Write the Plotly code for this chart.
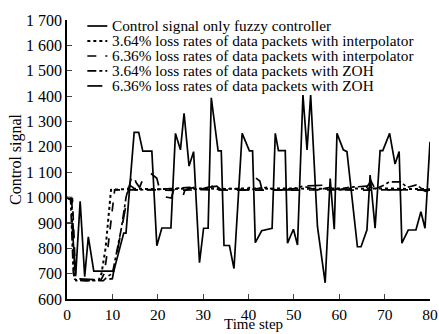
import plotly.graph_objects as go

# ---- data ----
fuzzy_t = [0, 1.1, 1.9, 2.9, 3.9, 4.7, 5.9, 10.3, 12.5, 13, 14.8, 15.8, 16.7, 18.7, 19.8, 20.9, 22.9,
           23.9, 25, 25.8, 26.9, 27.9, 29.2, 30.1, 31.1, 31.8, 33.3, 34, 34.6, 35.8, 36.8, 38.6,
           40.2, 40.9, 41.5, 42.9, 45.2, 45.9, 46.6, 48.1, 48.6, 49.9, 50.8, 52, 52.9, 53.7, 55.2,
           56.9, 58, 58.9, 59.5, 60.9, 61.7, 64, 64.8, 66.1, 66.8, 67.9, 69, 69.6, 71.1, 72.3,
           73.2, 73.8, 75.2, 76.9, 78, 78.9, 80]
fuzzy_v = [900, 900, 690, 985, 688, 845, 710, 710, 860, 860, 1257, 1257, 1183, 1183, 810, 880, 880,
           1253, 1188, 1332, 1124, 1181, 743, 879, 879, 1393, 1184, 1184, 811, 811, 720, 1253,
           1184, 1184, 822, 869, 879, 1253, 1185, 1185, 820, 875, 813, 1404, 1188, 1404, 885,
           664, 1075, 875, 1253, 1188, 1181, 806, 806, 872, 1089, 879, 1185, 1185, 1253, 1132,
           1181, 820, 872, 872, 944, 879, 1220]

interp364_t = [0, 1, 1.6, 2, 7, 7.6, 8.5, 9.7, 11, 15, 20, 25, 30, 35, 40, 45, 50, 55, 60, 65, 70, 75, 80]
interp364_v = [1000, 990, 680, 675, 675, 700, 800, 1030, 1032, 1035, 1033, 1035, 1036, 1034, 1036,
               1035, 1036, 1034, 1036, 1035, 1036, 1034, 1033]

interp636_t = [0, 1.2, 1.9, 2.2, 4, 7.5, 8.2, 9, 10.5, 12, 14, 20, 24, 30, 36, 42, 48, 54, 60, 66, 72, 78, 79.5, 80]
interp636_v = [1000, 995, 690, 680, 672, 675, 700, 800, 1030, 1030, 1032, 1030, 1028, 1031, 1029,
               1030, 1028, 1031, 1030, 1029, 1031, 1030, 1025, 1030]

zoh364_t = [0, 0.8, 1.4, 2, 8, 9, 10, 11, 12, 13, 13.7, 14.5, 15, 20, 27, 29, 32, 33.5, 36, 40, 44, 46,
            50, 52, 55, 58, 60, 62, 66, 68, 70, 71, 73.5, 75, 77, 79, 80]
zoh364_v = [1000, 990, 700, 672, 672, 690, 700, 790, 880, 1000, 1050, 1040, 1030, 1032, 1040, 1030,
            1045, 1030, 1035, 1030, 1040, 1030, 1035, 1045, 1030, 1040, 1030, 1040, 1045, 1035, 1050,
            1062, 1062, 1040, 1050, 1025, 1030]

zoh636_t = [0, 1, 1.3, 1.8, 8, 10, 11, 12, 12.8, 13.5, 14.5, 15.2, 16, 17, 18, 19.8, 20.5, 21, 23, 23.5,
            25, 25.5, 26, 28, 30, 31, 33, 34, 40, 41, 42.5, 43, 50, 52, 58, 60, 66, 67, 68, 72, 78, 80]
zoh636_v = [1000, 1000, 900, 680, 675, 680, 780, 870, 950, 1030, 1100, 1060, 1040, 1085, 1102, 1076,
            1025, 1005, 998, 1030, 1030, 1003, 1030, 1040, 1030, 1040, 1045, 1030, 1030, 1085, 1065,
            1030, 1030, 1045, 1050, 1030, 1040, 1065, 1030, 1030, 1030, 1030]

series_names = ["Control signal only fuzzy controller",
                "3.64% loss rates of data packets with interpolator",
                "6.36% loss rates of data packets with interpolator",
                "3.64% loss rates of data packets with ZOH",
                "6.36% loss rates of data packets with ZOH"]
series_dash = ["solid", "dot", "dash", "dashdot", "longdash"]

y_tickvals = [600, 700, 800, 900, 1000, 1100, 1200, 1300, 1400, 1500, 1600, 1700]
y_ticktext = ["600", "700", "800", "900", "1 000", "1 100", "1 200", "1 300", "1 400", "1 500", "1 600", "1 700"]
x_tickvals = [0, 10, 20, 30, 40, 50, 60, 70, 80]
x_title = "Time step"
y_title = "Control signal"

FONT = "Liberation Serif"

fig = go.Figure()
series = [(fuzzy_t, fuzzy_v), (interp364_t, interp364_v), (interp636_t, interp636_v),
          (zoh364_t, zoh364_v), (zoh636_t, zoh636_v)]
widths = [1.7, 2, 1.7, 1.7, 1.7]
for (t, v), name, dash, w in zip(series, series_names, series_dash, widths):
    fig.add_trace(go.Scatter(x=t, y=v, mode="lines", name=name,
                             line=dict(color="black", width=w, dash=dash),
                             showlegend=False))

# manual legend (compact row spacing like the reference)
row_y = [0.9785, 0.9248, 0.871, 0.8174, 0.7637]
for name, dash, w, yy in zip(series_names, series_dash, widths, row_y):
    fig.add_shape(type="line", xref="paper", yref="paper", x0=0.056, x1=0.111, y0=yy, y1=yy,
                  line=dict(color="black", width=w, dash=dash))
    fig.add_annotation(xref="paper", yref="paper", x=0.122, y=yy, text=name, showarrow=False,
                       xanchor="left", yanchor="middle", borderpad=0,
                       font=dict(family=FONT, size=15.3, color="black"))

# x axis title placed at the very bottom of the figure, as in the reference
fig.add_annotation(xref="paper", yref="paper", x=0.513, y=-0.1253, text=x_title, showarrow=False,
                   xanchor="center", yanchor="bottom", borderpad=0, yshift=1,
                   font=dict(family=FONT, size=15, color="black"))

fig.update_layout(
    width=439, height=334,
    margin=dict(l=67, r=9, t=20, b=35),
    paper_bgcolor="white", plot_bgcolor="white",
    font=dict(family=FONT, size=16, color="black"),
)
fig.update_xaxes(range=[0, 80], tickvals=x_tickvals, ticks="inside", ticklen=5, tickwidth=1.2,
                 showline=True, linecolor="black", linewidth=1.5, showgrid=False, zeroline=False,
                 ticklabelstandoff=1, automargin=False,
                 tickfont=dict(family=FONT, size=15.5))
fig.update_yaxes(range=[600, 1700], tickvals=y_tickvals, ticktext=y_ticktext, ticks="inside", ticklen=5,
                 tickwidth=1.2, showline=True, linecolor="black", linewidth=1.5, showgrid=False,
                 zeroline=False, automargin=False,
                 title=dict(text=y_title, standoff=0, font=dict(family=FONT, size=16)),
                 tickfont=dict(family=FONT, size=16))

fig.write_html("out.html")
